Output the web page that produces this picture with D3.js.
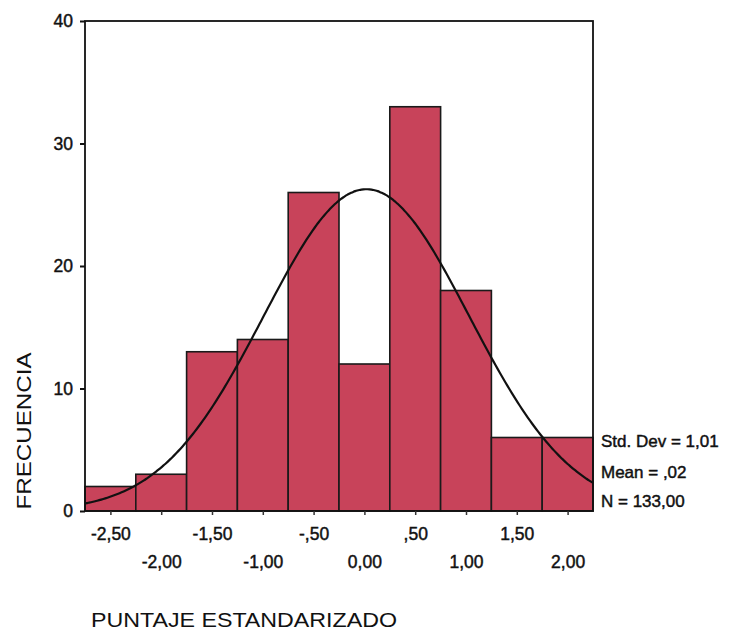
<!DOCTYPE html>
<html>
<head>
<meta charset="utf-8">
<script src="https://cdn.jsdelivr.net/npm/d3@7"></script>
<style>
  html, body { margin: 0; padding: 0; background: #ffffff; }
  svg { display: block; }
  text { font-family: Arial, "Liberation Sans", sans-serif; fill: #111; }
  .dark { stroke: #111; stroke-width: 0.45px; }
</style>
</head>
<body>
<svg id="chart" width="731" height="636"></svg>
<script>
// ---- data ----
const binCenters = [-2.5, -2.0, -1.5, -1.0, -0.5, 0.0, 0.5, 1.0, 1.5, 2.0];
const frequencies = [2, 3, 13, 14, 26, 12, 33, 18, 6, 6];
const xTickLabels = ["-2,50", "-2,00", "-1,50", "-1,00", "-,50", "0,00", ",50", "1,00", "1,50", "2,00"];
const yTicks = [0, 10, 20, 30, 40];
const statsLabels = ["Std. Dev = 1,01", "Mean = ,02", "N = 133,00"];
const stdDev = 1.01, mean = 0.02, nTotal = 133;
const binWidth = 0.5;

// ---- layout ----
const svg = d3.select("#chart");
const plotLeft = 85, plotRight = 593, plotTop = 21, plotBottom = 511;

const x = d3.scaleLinear().domain([-2.75, 2.25]).range([plotLeft, plotRight]);
const y = d3.scaleLinear().domain([0, 40]).range([plotBottom, plotTop]);

svg.append("defs").append("clipPath").attr("id", "plotClip")
  .append("rect").attr("x", plotLeft).attr("y", plotTop)
  .attr("width", plotRight - plotLeft).attr("height", plotBottom - plotTop);

// bars
svg.append("g").selectAll("rect")
  .data(binCenters.map((c, i) => ({c, v: frequencies[i]})))
  .join("rect")
  .attr("x", d => x(d.c - binWidth / 2))
  .attr("y", d => y(d.v))
  .attr("width", d => x(d.c + binWidth / 2) - x(d.c - binWidth / 2))
  .attr("height", d => y(0) - y(d.v))
  .attr("fill", "#c8435a")
  .attr("stroke", "#1a1a1a")
  .attr("stroke-width", 1.6);

// normal curve from the stated statistics
const peak = nTotal * binWidth / (stdDev * Math.sqrt(2 * Math.PI));
const curveX = d3.range(-2.75, 2.2501, 0.02);
const line = d3.line()
  .x(d => x(d))
  .y(d => y(peak * Math.exp(-0.5 * Math.pow((d - mean) / stdDev, 2))))
  .curve(d3.curveBasis);
svg.append("path")
  .datum(curveX)
  .attr("d", line)
  .attr("fill", "none")
  .attr("stroke", "#111")
  .attr("stroke-width", 2.2)
  .attr("clip-path", "url(#plotClip)");

// frame
svg.append("rect")
  .attr("x", plotLeft).attr("y", plotTop)
  .attr("width", plotRight - plotLeft).attr("height", plotBottom - plotTop)
  .attr("fill", "none").attr("stroke", "#111").attr("stroke-width", 1.8);

// y axis
const yAxis = d3.axisLeft(y).tickValues(yTicks).tickSize(5).tickPadding(7).tickFormat(d3.format("d"));
const gy = svg.append("g").attr("transform", `translate(${plotLeft},0)`).call(yAxis);
gy.select(".domain").remove();
gy.selectAll(".tick line").attr("stroke", "#111").attr("stroke-width", 2);
gy.selectAll(".tick text").classed("dark", true)
  .style("font-size", "17.5px").style("font-family", "Arial, 'Liberation Sans', sans-serif").attr("fill", "#111");

// x axis
const xAxis = d3.axisBottom(x).tickValues(binCenters).tickSize(4).tickPadding(0)
  .tickFormat((d, i) => xTickLabels[i]);
const gx = svg.append("g").attr("transform", `translate(0,${plotBottom})`).call(xAxis);
gx.select(".domain").remove();
gx.selectAll(".tick line").attr("stroke", "#333").attr("stroke-width", 1.5);
gx.selectAll(".tick text").classed("dark", true)
  .style("font-size", "17.5px")
  .style("font-family", "Arial, 'Liberation Sans', sans-serif")
  .attr("fill", "#111")
  .attr("dy", null)
  .attr("y", (d, i) => i % 2 === 0 ? 29 : 57);

// stats legend
svg.append("g").selectAll("text")
  .data(statsLabels)
  .join("text")
  .attr("class", "dark")
  .attr("x", 601)
  .attr("y", (d, i) => [447, 478, 507][i])
  .style("font-size", "17px")
  .text(d => d);

// axis titles
svg.append("text")
  .attr("transform", "translate(31,431) rotate(-90)")
  .attr("text-anchor", "middle")
  .attr("textLength", 157)
  .attr("lengthAdjust", "spacingAndGlyphs")
  .style("font-size", "20px")
  .text("FRECUENCIA");

svg.append("text")
  .attr("x", 91).attr("y", 627)
  .attr("textLength", 306)
  .attr("lengthAdjust", "spacingAndGlyphs")
  .style("font-size", "21px")
  .text("PUNTAJE ESTANDARIZADO");
</script>
</body>
</html>
